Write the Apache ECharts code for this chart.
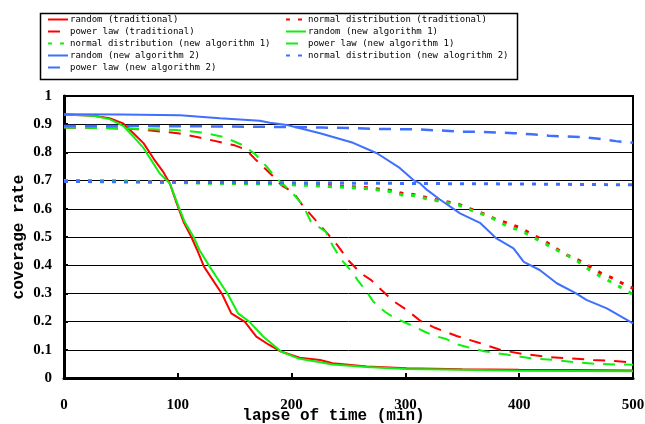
<!DOCTYPE html>
<html><head><meta charset="utf-8">
<script src="https://cdn.jsdelivr.net/npm/echarts@6/dist/echarts.min.js"></script>
<style>html,body{margin:0;padding:0;background:#fff}#c{width:645px;height:424px}</style>
</head><body><div id="c"></div>
<script>
// ---- data ----
const seriesNames = [
  'random (traditional)', 'normal distribution (traditional)',
  'power law (traditional)', 'random (new algorithm 1)',
  'normal distribution (new algorithm 1)', 'power law (new algorithm 1)',
  'random (new algorithm 2)', 'normal distribution (new alogrithm 2)',
  'power law (new algorithm 2)'
];
const xTicks = [0, 100, 200, 300, 400, 500];
const yTicks = [0, 0.1, 0.2, 0.3, 0.4, 0.5, 0.6, 0.7, 0.8, 0.9, 1];

const randTradX = [0, 26, 40, 52, 61, 70, 78.5, 87, 93, 99, 105, 112, 117, 123, 139, 147, 159, 169, 180, 190, 207, 225, 236, 266, 301, 350, 400, 450, 500];
const randTradY = [0.934, 0.930, 0.921, 0.903, 0.868, 0.832, 0.779, 0.732, 0.69, 0.62, 0.554, 0.499, 0.454, 0.395, 0.297, 0.229, 0.199, 0.147, 0.118, 0.095, 0.072, 0.064, 0.052, 0.041, 0.035, 0.031, 0.029, 0.028, 0.027];

const randNew1X = [0, 26, 40, 52, 61, 70, 78.5, 84, 93, 99.5, 106, 114, 119, 128, 144, 153, 163, 175, 191, 207, 225, 236, 266, 301, 350, 400, 450, 500];
const randNew1Y = [0.934, 0.930, 0.918, 0.894, 0.856, 0.815, 0.761, 0.726, 0.69, 0.62, 0.554, 0.499, 0.454, 0.395, 0.297, 0.229, 0.199, 0.147, 0.093, 0.068, 0.056, 0.048, 0.039, 0.032, 0.029, 0.026, 0.025, 0.024];

const randNew2X = [0, 50, 102, 128, 137, 172, 181, 196, 225, 254, 275, 295, 307, 313, 319, 330, 348, 366, 380, 395, 404, 418, 433, 450, 459, 477, 500];
const randNew2Y = [0.935, 0.934, 0.932, 0.924, 0.921, 0.912, 0.905, 0.897, 0.868, 0.834, 0.797, 0.745, 0.702, 0.69, 0.667, 0.634, 0.584, 0.549, 0.495, 0.46, 0.412, 0.383, 0.336, 0.30, 0.277, 0.247, 0.194];

const powTradX = [0, 40, 65, 80, 100, 120, 140, 150, 160, 168, 175, 184, 191, 202, 210, 221, 230, 240, 251, 261, 270, 279, 289, 302, 313, 326, 345, 363, 385, 404, 426, 445, 465, 484, 500];
const powTradY = [0.888, 0.886, 0.882, 0.876, 0.868, 0.852, 0.834, 0.825, 0.81, 0.776, 0.749, 0.714, 0.684, 0.656, 0.61, 0.56, 0.519, 0.472, 0.412, 0.371, 0.347, 0.312, 0.274, 0.239, 0.203, 0.178, 0.149, 0.127, 0.098, 0.085, 0.074, 0.07, 0.064, 0.06, 0.055];

const powNew1X = [0, 40, 78, 100, 122, 140, 157, 168, 178, 184, 190, 200, 210, 217, 230, 236, 244, 253, 258, 266, 272, 282, 289, 300, 307, 317, 326, 336, 345, 355, 369, 389, 410, 430, 447, 467, 484, 500];
const powNew1Y = [0.888, 0.886, 0.882, 0.879, 0.87, 0.855, 0.826, 0.794, 0.75, 0.72, 0.696, 0.66, 0.612, 0.554, 0.519, 0.47, 0.418, 0.377, 0.347, 0.306, 0.27, 0.235, 0.217, 0.196, 0.184, 0.164, 0.149, 0.138, 0.12, 0.109, 0.095, 0.083, 0.07, 0.064, 0.057, 0.05, 0.048, 0.047];

const powNew2X = [0, 100, 200, 227, 252, 278, 307, 335, 349, 366, 396, 411, 426, 456, 470, 485, 500];
const powNew2Y = [0.894, 0.893, 0.89, 0.888, 0.886, 0.883, 0.882, 0.877, 0.873, 0.873, 0.868, 0.864, 0.859, 0.854, 0.848, 0.84, 0.834];

const normX = [0, 50, 100, 140, 183, 215, 247, 267, 287, 297, 308, 320, 335, 347, 357, 370, 380, 390, 402, 412, 422, 432, 442, 452, 462, 472, 482, 492, 500];
const normTradY = [0.70, 0.698, 0.695, 0.692, 0.69, 0.686, 0.68, 0.675, 0.665, 0.655, 0.65, 0.638, 0.626, 0.616, 0.6, 0.58, 0.562, 0.549, 0.531, 0.507, 0.487, 0.46, 0.436, 0.418, 0.395, 0.371, 0.354, 0.333, 0.318];
const normNew1Y = [0.70, 0.697, 0.693, 0.69, 0.688, 0.683, 0.676, 0.671, 0.661, 0.649, 0.647, 0.634, 0.623, 0.613, 0.596, 0.578, 0.56, 0.537, 0.522, 0.499, 0.478, 0.456, 0.436, 0.412, 0.383, 0.359, 0.338, 0.315, 0.296];

const normNew2X = [0, 100, 200, 300, 400, 500];
const normNew2Y = [0.697, 0.694, 0.692, 0.69, 0.688, 0.685];

// ---- build ----
const RED = '#ff0000', GREEN = '#11ee11', BLUE = '#3f6fff';
const SOLID = 'solid', DASH = [12, 9], DOT = [4, 8];
const zip = (xs, ys) => xs.map((x, i) => [x, ys[i]]);
const specs = [
  [0, randTradX, randTradY, RED, SOLID, 2],
  [1, normX, normTradY, RED, DOT, 3],
  [2, powTradX, powTradY, RED, DASH, 2],
  [3, randNew1X, randNew1Y, GREEN, SOLID, 2],
  [4, normX, normNew1Y, GREEN, DOT, 3],
  [5, powNew1X, powNew1Y, GREEN, DASH, 2],
  [6, randNew2X, randNew2Y, BLUE, SOLID, 2],
  [7, normNew2X, normNew2Y, BLUE, DOT, 3],
  [8, powNew2X, powNew2Y, BLUE, DASH, 2.5]
];
const series = specs.map(([i, xs, ys, c, t, w]) => ({
  name: seriesNames[i], type: 'line', data: zip(xs, ys),
  showSymbol: false, symbol: 'none', smooth: false, animation: false,
  color: c, lineStyle: { color: c, type: t, width: w, cap: 'butt' }
}));

const legendText = { fontFamily: 'DejaVu Sans Mono', fontSize: 9, color: '#000', padding: [0, 0, 0, -3] };
const legendCommon = {
  orient: 'vertical', itemWidth: 20, itemHeight: 10, itemGap: 3,
  textStyle: legendText, padding: 0, selectedMode: false,
  itemStyle: { color: 'rgba(0,0,0,0)', borderColor: 'rgba(0,0,0,0)', borderWidth: 0 }
};

const chart = echarts.init(document.getElementById('c'), null, { renderer: 'canvas' });
chart.setOption({
  backgroundColor: '#fff',
  animation: false,
  grid: { left: 64, right: 12, top: 96, bottom: 46, show: true, borderColor: '#000', borderWidth: 2,
    containLabel: false, outerBoundsMode: 'none' },
  legend: [
    Object.assign({ left: 47, top: 15, data: [seriesNames[0], seriesNames[2], seriesNames[4], seriesNames[6], seriesNames[8]] }, legendCommon),
    Object.assign({ left: 285, top: 15, data: [seriesNames[1], seriesNames[3], seriesNames[5], seriesNames[7]] }, legendCommon)
  ],
  graphic: [{
    type: 'rect', left: 38, top: 11, shape: { width: 477, height: 66 },
    style: { fill: 'none', stroke: '#000', lineWidth: 1.5 }, silent: true, z: -1
  }],
  xAxis: {
    type: 'value', min: xTicks[0], max: xTicks[xTicks.length - 1], interval: 100,
    name: 'lapse of time (min)', nameLocation: 'middle', nameGap: 30, nameMoveOverlap: false,
    nameTextStyle: { fontFamily: 'Liberation Mono', fontWeight: 'bold', fontSize: 16, color: '#000', padding: [0, 30, 0, 0] },
    axisLine: { show: true, lineStyle: { color: '#000', width: 3 } },
    axisTick: { show: true, inside: true, length: 5, lineStyle: { color: '#000', width: 2 } },
    axisLabel: { fontFamily: 'Liberation Serif', fontWeight: 'bold', fontSize: 15, color: '#000', margin: 20 },
    splitLine: { show: false }
  },
  yAxis: {
    type: 'value', min: yTicks[0], max: yTicks[yTicks.length - 1], interval: 0.1,
    name: 'coverage rate', nameLocation: 'middle', nameGap: 37, nameMoveOverlap: false,
    nameTextStyle: { fontFamily: 'Liberation Mono', fontWeight: 'bold', fontSize: 16, color: '#000' },
    axisLine: { show: true, lineStyle: { color: '#000', width: 3 } },
    axisTick: { show: true, inside: true, length: 4, lineStyle: { color: '#000', width: 2 } },
    axisLabel: { fontFamily: 'Liberation Serif', fontWeight: 'bold', fontSize: 15, color: '#000', margin: 12,
      formatter: v => String(Math.round(v * 10) / 10) },
    splitLine: { show: true, lineStyle: { color: '#000', width: 1 } }
  },
  series: series
});
</script></body></html>
